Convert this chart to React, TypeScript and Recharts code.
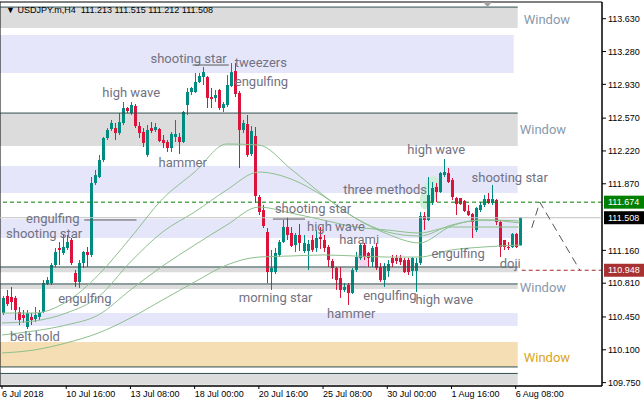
import React from 'react';
import {
  ComposedChart, Bar, Line, XAxis, YAxis, ReferenceArea, ReferenceLine, ReferenceDot,
} from 'recharts';

// USDJPY.m H4, 6 Jul - 6 Aug 2018 (bar index 0..129)
const opens = [
  110.492, 110.674, 110.663, 110.652, 110.503, 110.471, 110.343, 110.450, 110.428, 110.450,
  110.503, 110.802, 110.812, 111.004, 111.185, 111.132, 111.185, 111.271, 110.919, 110.823,
  111.025, 111.143, 111.111, 111.878, 111.942, 112.123, 112.358, 112.454, 112.464, 112.411,
  112.518, 112.678, 112.624, 112.699, 112.486, 112.422, 112.177, 112.464, 112.443, 112.454,
  112.337, 112.315, 112.252, 112.369, 112.369, 112.315, 112.710, 112.848, 112.848, 112.955,
  113.008, 113.008, 112.795, 112.784, 112.870, 112.678, 112.710, 112.912, 113.072, 112.838,
  112.443, 112.507, 112.187, 112.379, 111.729, 111.590, 111.356, 110.929, 110.929, 111.111,
  111.249, 111.409, 111.345, 111.217, 111.324, 111.153, 111.153, 111.271, 111.185, 111.303,
  111.271, 111.196, 111.047, 110.972, 110.865, 110.738, 110.791, 110.706, 110.951, 111.079,
  111.217, 111.132, 111.036, 111.196, 110.983, 110.844, 110.940, 111.079, 111.079, 111.079,
  111.057, 111.057, 110.940, 110.940, 111.025, 111.526, 111.484, 111.676, 111.836, 111.782,
  111.963, 111.985, 111.910, 111.718, 111.718, 111.686, 111.580, 111.548, 111.377, 111.590,
  111.644, 111.708, 111.665, 111.697, 111.462, 111.271, 111.196, 111.196, 111.335, 111.213,
];
const highs = [
  110.674, 110.738, 110.770, 110.674, 110.556, 110.524, 110.524, 110.492, 110.556, 110.524,
  110.844, 110.876, 111.025, 111.185, 111.249, 111.335, 111.324, 111.292, 110.951, 111.057,
  111.153, 111.196, 111.942, 112.017, 112.177, 112.369, 112.464, 112.550, 112.518, 112.624,
  112.742, 112.688, 112.742, 112.720, 112.528, 112.464, 112.496, 112.528, 112.518, 112.464,
  112.390, 112.337, 112.422, 112.550, 112.411, 112.646, 112.891, 112.902, 113.051, 113.051,
  113.115, 113.019, 112.891, 112.870, 112.880, 112.742, 113.029, 113.157, 113.157, 112.859,
  112.550, 112.603, 112.486, 112.475, 111.750, 111.644, 111.398, 111.164, 111.185, 111.271,
  111.484, 111.516, 111.409, 111.345, 111.441, 111.324, 111.271, 111.324, 111.377, 111.409,
  111.324, 111.217, 111.068, 110.983, 110.983, 110.812, 110.812, 110.972, 111.143, 111.239,
  111.239, 111.143, 111.207, 111.239, 111.025, 111.025, 111.057, 111.111, 111.111, 111.111,
  111.079, 111.079, 111.089, 111.079, 111.569, 111.569, 111.942, 111.889, 111.878, 111.995,
  112.134, 112.038, 111.931, 111.729, 111.718, 111.697, 111.644, 111.558, 111.622, 111.676,
  111.750, 111.772, 111.857, 111.708, 111.484, 111.271, 111.249, 111.345, 111.345, 111.515,
];
const lows = [
  110.471, 110.567, 110.524, 110.418, 110.364, 110.386, 110.322, 110.364, 110.396, 110.418,
  110.492, 110.791, 110.791, 110.983, 111.004, 111.111, 111.164, 111.004, 110.770, 110.759,
  110.972, 110.983, 111.089, 111.857, 111.931, 112.102, 112.337, 112.433, 112.337, 112.390,
  112.496, 112.624, 112.603, 112.464, 112.358, 112.262, 112.156, 112.411, 112.422, 112.315,
  112.252, 112.209, 112.209, 112.315, 112.187, 112.305, 112.603, 112.816, 112.838, 112.944,
  112.923, 112.678, 112.678, 112.742, 112.656, 112.635, 112.688, 112.902, 112.795, 112.038,
  112.411, 112.156, 112.166, 111.665, 111.537, 111.398, 110.812, 110.738, 110.908, 111.089,
  111.239, 111.271, 111.196, 111.143, 111.153, 111.132, 110.951, 111.143, 111.143, 111.175,
  111.143, 110.983, 110.855, 110.738, 110.652, 110.716, 110.578, 110.695, 110.929, 111.057,
  111.057, 110.983, 110.983, 110.951, 110.823, 110.770, 110.876, 110.983, 111.015, 111.004,
  110.919, 110.897, 110.887, 110.716, 111.004, 111.377, 111.473, 111.644, 111.676, 111.772,
  111.942, 111.878, 111.697, 111.537, 111.644, 111.569, 111.526, 111.292, 111.356, 111.569,
  111.622, 111.654, 111.644, 111.430, 111.089, 111.164, 111.164, 111.185, 111.185, 111.212,
];
const closes = [
  110.652, 110.588, 110.610, 110.524, 110.418, 110.439, 110.492, 110.418, 110.471, 110.492,
  110.812, 110.844, 111.004, 111.143, 111.164, 111.196, 111.249, 111.025, 110.823, 111.025,
  111.143, 111.111, 111.878, 111.963, 112.123, 112.358, 112.443, 112.518, 112.411, 112.528,
  112.678, 112.646, 112.710, 112.486, 112.411, 112.305, 112.443, 112.433, 112.475, 112.326,
  112.305, 112.252, 112.401, 112.401, 112.315, 112.635, 112.848, 112.891, 112.955, 113.019,
  113.061, 112.784, 112.774, 112.816, 112.678, 112.720, 112.923, 113.061, 112.827, 112.443,
  112.518, 112.177, 112.433, 111.740, 111.569, 111.420, 110.929, 110.972, 111.132, 111.249,
  111.409, 111.324, 111.207, 111.324, 111.239, 111.239, 111.228, 111.164, 111.292, 111.281,
  111.185, 111.057, 110.972, 110.844, 110.738, 110.770, 110.706, 110.951, 111.089, 111.217,
  111.089, 111.079, 111.185, 110.972, 110.844, 110.993, 111.015, 111.025, 111.047, 111.036,
  110.929, 110.929, 111.079, 111.025, 111.526, 111.484, 111.750, 111.825, 111.782, 111.985,
  111.995, 111.889, 111.729, 111.654, 111.654, 111.580, 111.537, 111.462, 111.612, 111.644,
  111.708, 111.665, 111.708, 111.462, 111.196, 111.196, 111.185, 111.335, 111.196, 111.508,
];

// moving averages read at every 8th bar
const maIdx = [0, 8, 16, 24, 32, 40, 48, 56, 64, 72, 80, 88, 96, 104, 112, 120, 129];
const ma1 = [110.492, 110.492, 110.610, 110.897, 111.292, 111.708, 111.995, 112.294, 112.283, 112.027, 111.750, 111.505, 111.335, 111.239, 111.420, 111.484, 111.452];
const ma2 = [110.386, 110.407, 110.492, 110.663, 111.036, 111.356, 111.569, 111.804, 111.995, 111.921, 111.740, 111.505, 111.356, 111.313, 111.430, 111.484, 111.473];
const ma3 = [110.258, 110.301, 110.364, 110.471, 110.738, 110.993, 111.217, 111.430, 111.622, 111.558, 111.484, 111.409, 111.377, 111.345, 111.409, 111.409, 111.409];
const ma4 = [110.066, 110.098, 110.173, 110.279, 110.439, 110.631, 110.823, 111.004, 111.089, 111.100, 111.111, 111.100, 111.089, 111.089, 111.164, 111.196, 111.217];

// projected path on the right
const projIdx = [132, 134, 144];
const projVals = [111.40, 111.674, 110.948];

const xTickIdx = [0, 16, 32, 48, 64, 80, 96, 112, 128];
const xTickLabels = ['6 Jul 2018', '10 Jul 16:00', '13 Jul 08:00', '18 Jul 00:00', '20 Jul 16:00', '25 Jul 08:00', '30 Jul 00:00', '1 Aug 16:00', '6 Aug 08:00'];
const yTicks = [113.63, 113.28, 112.93, 112.57, 112.22, 111.87, 111.16, 110.81, 110.45, 110.10, 109.75];

// zones: [low, high, fill, lastBar]
const zones: [number, number, string, number][] = [
  [113.531, 113.754, '#dcdcdc', 128],
  [113.051, 113.456, '#e6e6fa', 127],
  [112.273, 112.624, '#dcdcdc', 128],
  [111.772, 112.060, '#e6e6fa', 128],
  [111.292, 111.494, '#e6e6fa', 128],
  [110.928, 110.983, '#dcdcdc', 128],
  [110.748, 110.802, '#dcdcdc', 128],
  [110.354, 110.492, '#e6e6fa', 128],
  [109.917, 110.183, '#f5deb3', 128],
  [109.728, 109.848, '#dcdcdc', 128],
];
const zoneEdges = [113.754, 112.624, 110.983, 110.802, 109.917, 109.848];

// pattern level segments: [price, fromBar, toBar]
const levels: [number, number, number][] = [
  [113.136, 48, 57],
  [111.484, 21, 34],
  [111.494, 68, 76],
];

const labels = [
  { text: 'shooting star', i: 37, p: 113.211 },
  { text: 'tweezers', i: 58, p: 113.168 },
  { text: 'engulfing', i: 58, p: 112.965 },
  { text: 'high wave', i: 25, p: 112.848 },
  { text: 'hammer', i: 39, p: 112.102 },
  { text: 'three methods', i: 85, p: 111.814 },
  { text: 'high wave', i: 101, p: 112.241 },
  { text: 'shooting star', i: 117, p: 111.942 },
  { text: 'shooting star', i: 68, p: 111.612 },
  { text: 'engulfing', i: 6, p: 111.505 },
  { text: 'shooting star', i: 1, p: 111.345 },
  { text: 'high wave', i: 76, p: 111.420 },
  { text: 'harami', i: 84, p: 111.281 },
  { text: 'engulfing', i: 107, p: 111.132 },
  { text: 'doji', i: 124, p: 111.025 },
  { text: 'engulfing', i: 14, p: 110.652 },
  { text: 'belt hold', i: 2, p: 110.247 },
  { text: 'morning star', i: 59, p: 110.663 },
  { text: 'hammer', i: 81, p: 110.492 },
  { text: 'engulfing', i: 90, p: 110.684 },
  { text: 'high wave', i: 103, p: 110.642 },
];
const windowLabels = [
  { i: 130, p: 113.626, color: '#8899aa' },
  { i: 129, p: 112.454, color: '#8899aa' },
  { i: 129, p: 110.770, color: '#8899aa' },
  { i: 130, p: 110.023, color: '#daa520' },
];

const Y_MIN = 109.714;
const Y_MAX = 113.808;
const BULL = '#008b80';
const BEAR = '#dc143c';
const LABEL_FONT = 'Roboto, "Liberation Sans", sans-serif';
const AXIS_FONT = '"Liberation Sans", Arial, sans-serif';

const data = Array.from({ length: 150 }, (_, i) => {
  const row: any = { i };
  if (i < opens.length) {
    row.open = opens[i];
    row.high = highs[i];
    row.low = lows[i];
    row.close = closes[i];
    row.range = [lows[i], highs[i]];
  }
  const m = maIdx.indexOf(i);
  if (m >= 0) {
    row.ma1 = ma1[m];
    row.ma2 = ma2[m];
    row.ma3 = ma3[m];
    row.ma4 = ma4[m];
  }
  const q = projIdx.indexOf(i);
  if (q >= 0) row.proj = projVals[q];
  return row;
});

const Candle = (props: any) => {
  const { x, y, width, height, payload } = props;
  if (!payload || payload.open == null) return null;
  const { open, close, high, low } = payload;
  const color = close >= open ? BULL : BEAR;
  const top = Math.min(y, y + height);
  const h = Math.abs(height);
  const span = high - low || 1e-6;
  const py = (v: number) => top + ((high - v) / span) * h;
  const cx = Math.round(x + width / 2);
  const bTop = py(Math.max(open, close));
  const bBot = py(Math.min(open, close));
  return (
    <g>
      <line x1={cx + 0.5} x2={cx + 0.5} y1={top} y2={top + h} stroke={color} />
      <rect x={cx - 1} y={bTop} width={3} height={Math.max(1, bBot - bTop)} fill={color} />
    </g>
  );
};

const XTick = (props: any) => {
  const { x, y, payload } = props;
  const k = xTickIdx.indexOf(payload.value);
  return (
    <text x={x} y={y} dy="0.71em" textAnchor="start" fontSize={9} fill="#000" fontFamily={AXIS_FONT}>
      {k >= 0 ? xTickLabels[k] : ''}
    </text>
  );
};

const priceTag = (text: string, bg: string) => (lp: any) => {
  const vb = lp.viewBox;
  const right = vb.x + vb.width;
  return (
    <g>
      <rect x={right + 2} y={vb.y - 6.5} width={42} height={13} fill={bg} />
      <text x={right + 6} y={vb.y} dy="0.35em" fontSize={9} fill="#fff" fontFamily={AXIS_FONT}>{text}</text>
    </g>
  );
};

const textLabel = (text: string, color: string) => (lp: any) => (
  <text x={lp.viewBox.x} y={lp.viewBox.y} dy="0.35em" fontSize={13} fill={color} fontFamily={LABEL_FONT}>
    {text}
  </text>
);

const ellipse = (fill: string, angle: number) => (p: any) => {
  const cx = p.x + p.width / 2;
  const cy = p.y + p.height / 2;
  return (
    <ellipse cx={cx} cy={cy} rx={p.width / 2} ry={p.height / 2} fill={fill}
      transform={`rotate(${angle} ${cx} ${cy})`} />
  );
};

export default function App() {
  return (
    <div style={{ position: 'absolute', left: 0, top: 0, width: 644, height: 407, background: '#fff' }}>
      <ComposedChart width={644} height={407} data={data} margin={{ top: 2, right: 0, bottom: 0, left: 0 }}>
        <XAxis dataKey="i" type="category" ticks={xTickIdx} interval={0} tick={XTick} tickSize={3}
          height={21} axisLine={{ stroke: '#000' }} tickLine={{ stroke: '#000' }} />
        <YAxis orientation="right" type="number" domain={[Y_MIN, Y_MAX]} allowDataOverflow ticks={yTicks}
          interval={0} width={42} tickSize={4} tickFormatter={(v: number) => v.toFixed(3)}
          tick={{ fontSize: 9, fill: '#000', fontFamily: AXIS_FONT }}
          axisLine={{ stroke: '#000' }} tickLine={{ stroke: '#000' }} />

        {zones.map(([lo, hi, fill, last], k) => (
          <ReferenceArea key={`z${k}`} x1={0} x2={last} y1={lo} y2={hi} fill={fill} fillOpacity={1} stroke="none" />
        ))}
        {zoneEdges.map((p, k) => (
          <ReferenceLine key={`e${k}`} position="start" segment={[{ x: 0, y: p }, { x: 129, y: p }]} stroke="#2f4f4f" />
        ))}
        <ReferenceLine position="end" segment={[{ x: 129, y: 110.948 }, { x: 149, y: 110.948 }]}
          stroke="#a52a2a" strokeDasharray="4 3" label={priceTag('110.948', '#a83232')} />
        <ReferenceLine y={111.674} stroke="#008000" strokeDasharray="4 3" label={priceTag('111.674', '#008000')} />
        <ReferenceLine y={111.508} stroke="#c0c0c0" label={priceTag('111.508', '#000')} />
        {levels.map(([p, a, b], k) => (
          <ReferenceLine key={`l${k}`} position="start" segment={[{ x: a, y: p }, { x: b, y: p }]} stroke="#5a5a5a" />
        ))}

        <ReferenceArea x1={105} x2={108} y1={111.590} y2={111.963} shape={ellipse('#cdeedb', 20)} />
        <ReferenceArea x1={89} x2={91} y1={110.972} y2={111.164} shape={ellipse('#f6d6ee', 0)} />

        <Line dataKey="ma4" type="monotone" stroke="#8cc08c" strokeWidth={1} dot={false} connectNulls isAnimationActive={false} />
        <Line dataKey="ma3" type="monotone" stroke="#8cc08c" strokeWidth={1} dot={false} connectNulls isAnimationActive={false} />
        <Line dataKey="ma2" type="monotone" stroke="#8cc08c" strokeWidth={1} dot={false} connectNulls isAnimationActive={false} />
        <Line dataKey="ma1" type="monotone" stroke="#8cc08c" strokeWidth={1} dot={false} connectNulls isAnimationActive={false} />

        <Bar dataKey="range" barSize={3} shape={Candle} isAnimationActive={false} />

        <Line dataKey="proj" type="linear" stroke="#555" strokeWidth={1} strokeDasharray="8 5" dot={false}
          connectNulls isAnimationActive={false} />

        {labels.map((l, k) => (
          <ReferenceDot key={`t${k}`} x={l.i} y={l.p} r={0} stroke="none" label={textLabel(l.text, '#727282')} />
        ))}
        {windowLabels.map((w, k) => (
          <ReferenceDot key={`w${k}`} x={w.i} y={w.p} r={0} stroke="none" label={textLabel('Window', w.color)} />
        ))}

        <ReferenceArea x1={0} x2={149} y1={Y_MIN} y2={Y_MAX} fill="none" stroke="#000" />
      </ComposedChart>

      <div style={{ position: 'absolute', left: 6, top: 5, fontFamily: AXIS_FONT, fontSize: 9, color: '#000', whiteSpace: 'pre' }}>
        {'\u25BC USDJPY.m,H4  111.213 111.515 111.212 111.508'}
      </div>
      <svg style={{ position: 'absolute', left: 483, top: 2 }} width={9} height={6}>
        <polygon points="0,0 9,0 4.5,5" fill="#a0a0a0" />
      </svg>
    </div>
  );
}
